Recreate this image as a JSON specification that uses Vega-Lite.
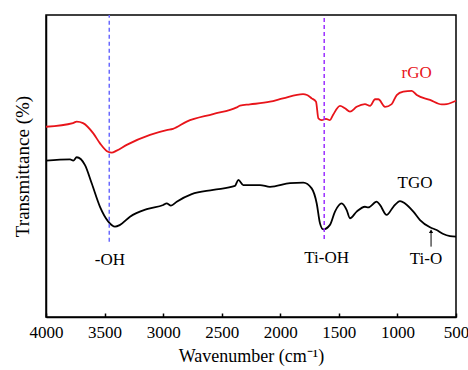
{
  "$schema": "https://vega.github.io/schema/vega-lite/v6.json",
  "width": 410,
  "height": 302,
  "autosize": "none",
  "padding": {"left": 46, "top": 15, "right": 12, "bottom": 53},
  "background": "white",
  "config": {
    "view": {"stroke": "black", "strokeWidth": 1.5},
    "font": "Liberation Serif",
    "axis": {"labelFont": "Liberation Serif", "titleFont": "Liberation Serif", "grid": false, "domainColor": "black", "domainWidth": 1.5, "tickColor": "black", "labelColor": "black", "titleColor": "black"}
  },
  "datasets": {
    "spectra": [
      {"s": "rGO", "w": 4000, "t": 63.0}, {"s": "rGO", "w": 3770, "t": 64.2}, {"s": "rGO", "w": 3738, "t": 64.7}, {"s": "rGO", "w": 3684, "t": 64.2},
      {"s": "rGO", "w": 3596, "t": 60.8}, {"s": "rGO", "w": 3539, "t": 57.5}, {"s": "rGO", "w": 3471, "t": 54.7}, {"s": "rGO", "w": 3439, "t": 54.4},
      {"s": "rGO", "w": 3397, "t": 55.1}, {"s": "rGO", "w": 3311, "t": 57.0}, {"s": "rGO", "w": 3112, "t": 60.3}, {"s": "rGO", "w": 2970, "t": 61.9},
      {"s": "rGO", "w": 2916, "t": 62.3}, {"s": "rGO", "w": 2799, "t": 64.7}, {"s": "rGO", "w": 2574, "t": 67.2}, {"s": "rGO", "w": 2372, "t": 69.4},
      {"s": "rGO", "w": 2344, "t": 70.0}, {"s": "rGO", "w": 2259, "t": 70.4}, {"s": "rGO", "w": 2088, "t": 71.3}, {"s": "rGO", "w": 1977, "t": 72.4},
      {"s": "rGO", "w": 1806, "t": 73.8}, {"s": "rGO", "w": 1772, "t": 73.5}, {"s": "rGO", "w": 1732, "t": 72.4}, {"s": "rGO", "w": 1695, "t": 71.3},
      {"s": "rGO", "w": 1675, "t": 65.8}, {"s": "rGO", "w": 1646, "t": 65.2}, {"s": "rGO", "w": 1610, "t": 65.6}, {"s": "rGO", "w": 1576, "t": 65.2},
      {"s": "rGO", "w": 1550, "t": 66.9}, {"s": "rGO", "w": 1490, "t": 69.9}, {"s": "rGO", "w": 1448, "t": 69.1}, {"s": "rGO", "w": 1405, "t": 68.0},
      {"s": "rGO", "w": 1348, "t": 69.6}, {"s": "rGO", "w": 1277, "t": 70.5}, {"s": "rGO", "w": 1234, "t": 69.9}, {"s": "rGO", "w": 1191, "t": 72.1},
      {"s": "rGO", "w": 1163, "t": 72.1}, {"s": "rGO", "w": 1106, "t": 69.6}, {"s": "rGO", "w": 1049, "t": 70.5}, {"s": "rGO", "w": 1006, "t": 73.5},
      {"s": "rGO", "w": 950, "t": 74.6}, {"s": "rGO", "w": 878, "t": 74.9}, {"s": "rGO", "w": 835, "t": 73.5}, {"s": "rGO", "w": 722, "t": 71.9},
      {"s": "rGO", "w": 622, "t": 70.4}, {"s": "rGO", "w": 579, "t": 70.5}, {"s": "rGO", "w": 500, "t": 71.6},
      {"s": "TGO", "w": 4000, "t": 51.8}, {"s": "TGO", "w": 3795, "t": 52.2}, {"s": "TGO", "w": 3767, "t": 51.8}, {"s": "TGO", "w": 3738, "t": 52.9},
      {"s": "TGO", "w": 3667, "t": 50.3}, {"s": "TGO", "w": 3610, "t": 44.3}, {"s": "TGO", "w": 3539, "t": 36.5}, {"s": "TGO", "w": 3468, "t": 31.6},
      {"s": "TGO", "w": 3411, "t": 29.9}, {"s": "TGO", "w": 3368, "t": 30.5}, {"s": "TGO", "w": 3283, "t": 33.2}, {"s": "TGO", "w": 3140, "t": 35.7},
      {"s": "TGO", "w": 2999, "t": 37.1}, {"s": "TGO", "w": 2970, "t": 37.6}, {"s": "TGO", "w": 2933, "t": 36.9}, {"s": "TGO", "w": 2884, "t": 38.2},
      {"s": "TGO", "w": 2756, "t": 40.7}, {"s": "TGO", "w": 2572, "t": 42.1}, {"s": "TGO", "w": 2387, "t": 43.4}, {"s": "TGO", "w": 2358, "t": 45.4},
      {"s": "TGO", "w": 2316, "t": 43.7}, {"s": "TGO", "w": 2173, "t": 43.7}, {"s": "TGO", "w": 2088, "t": 43.1}, {"s": "TGO", "w": 1917, "t": 44.3},
      {"s": "TGO", "w": 1804, "t": 44.5}, {"s": "TGO", "w": 1732, "t": 42.6}, {"s": "TGO", "w": 1689, "t": 37.6}, {"s": "TGO", "w": 1661, "t": 31.0},
      {"s": "TGO", "w": 1633, "t": 29.0}, {"s": "TGO", "w": 1576, "t": 30.5}, {"s": "TGO", "w": 1533, "t": 34.9}, {"s": "TGO", "w": 1476, "t": 37.6},
      {"s": "TGO", "w": 1433, "t": 35.4}, {"s": "TGO", "w": 1405, "t": 32.7}, {"s": "TGO", "w": 1348, "t": 34.9}, {"s": "TGO", "w": 1277, "t": 36.5},
      {"s": "TGO", "w": 1249, "t": 36.3}, {"s": "TGO", "w": 1177, "t": 38.2}, {"s": "TGO", "w": 1149, "t": 37.1}, {"s": "TGO", "w": 1092, "t": 33.8},
      {"s": "TGO", "w": 1035, "t": 36.5}, {"s": "TGO", "w": 978, "t": 38.4}, {"s": "TGO", "w": 935, "t": 37.6}, {"s": "TGO", "w": 864, "t": 34.9},
      {"s": "TGO", "w": 807, "t": 32.1}, {"s": "TGO", "w": 722, "t": 29.7}, {"s": "TGO", "w": 665, "t": 28.8}, {"s": "TGO", "w": 608, "t": 27.5},
      {"s": "TGO", "w": 551, "t": 26.8}, {"s": "TGO", "w": 500, "t": 26.6}
    ]
  },
  "layer": [
    {
      "data": {"name": "spectra"},
      "mark": {"type": "line", "strokeWidth": 1.8, "interpolate": "monotone"},
      "encoding": {
        "x": {
          "field": "w", "type": "quantitative",
          "scale": {"domain": [500, 4000], "reverse": true, "nice": false, "zero": false},
          "axis": {
            "title": "Wavenumber (cm⁻¹)",
            "titleFontSize": 18, "titleFontWeight": "normal", "titlePadding": 7,
            "values": [500, 750, 1000, 1250, 1500, 1750, 2000, 2250, 2500, 2750, 3000, 3250, 3500, 3750, 4000],
            "labelExpr": "datum.value % 500 === 0 ? datum.label : ''",
            "format": "d",
            "labelFontSize": 17, "labelPadding": 11,
            "labelFlush": false, "labelOverlap": false,
            "tickSize": {"condition": {"test": "datum.value % 500 === 0", "value": -4}, "value": -2.5},
            "tickWidth": 1.5
          }
        },
        "y": {
          "field": "t", "type": "quantitative",
          "scale": {"domain": [0, 100], "nice": false},
          "axis": {"title": "Transmittance (%)", "titleFontSize": 19, "titleFontWeight": "normal", "labels": false, "ticks": false, "titlePadding": 14}
        },
        "color": {"field": "s", "type": "nominal", "scale": {"domain": ["rGO", "TGO"], "range": ["#e8141a", "#000000"]}, "legend": null}
      }
    },
    {
      "data": {"values": [{"w": 3460, "y1": 24.9, "y2": 100}]},
      "mark": {"type": "rule", "color": "#6b6bff", "strokeDash": [4, 3], "strokeWidth": 1.5},
      "encoding": {"x": {"field": "w", "type": "quantitative"}, "y": {"field": "y1", "type": "quantitative"}, "y2": {"field": "y2"}}
    },
    {
      "data": {"values": [{"w": 1625, "y1": 25.8, "y2": 100}]},
      "mark": {"type": "rule", "color": "#9b30ff", "strokeDash": [4, 3], "strokeWidth": 1.5},
      "encoding": {"x": {"field": "w", "type": "quantitative"}, "y": {"field": "y1", "type": "quantitative"}, "y2": {"field": "y2"}}
    },
    {
      "data": {"values": [
        {"label": "-OH", "w": 3455, "t": 18.9},
        {"label": "Ti-OH", "w": 1604, "t": 19.4},
        {"label": "Ti-O", "w": 756, "t": 19.1},
        {"label": "TGO", "w": 850, "t": 44.3}
      ]},
      "mark": {"type": "text", "fontSize": 17, "font": "Liberation Serif", "color": "black", "align": "center", "baseline": "middle"},
      "encoding": {"x": {"field": "w", "type": "quantitative"}, "y": {"field": "t", "type": "quantitative"}, "text": {"field": "label"}}
    },
    {
      "data": {"values": [{"label": "rGO", "w": 836, "t": 80.7}]},
      "mark": {"type": "text", "fontSize": 17, "font": "Liberation Serif", "color": "#e8141a", "align": "center", "baseline": "middle"},
      "encoding": {"x": {"field": "w", "type": "quantitative"}, "y": {"field": "t", "type": "quantitative"}, "text": {"field": "label"}}
    },
    {
      "data": {"values": [{"w": 713, "y1": 23.3, "y2": 28.6}]},
      "mark": {"type": "rule", "color": "black", "strokeWidth": 1},
      "encoding": {"x": {"field": "w", "type": "quantitative"}, "y": {"field": "y1", "type": "quantitative"}, "y2": {"field": "y2"}}
    },
    {
      "data": {"values": [{"w": 713, "t": 28.4}]},
      "mark": {"type": "point", "shape": "triangle-up", "filled": true, "color": "black", "size": 18, "opacity": 1},
      "encoding": {"x": {"field": "w", "type": "quantitative"}, "y": {"field": "t", "type": "quantitative"}}
    }
  ]
}
